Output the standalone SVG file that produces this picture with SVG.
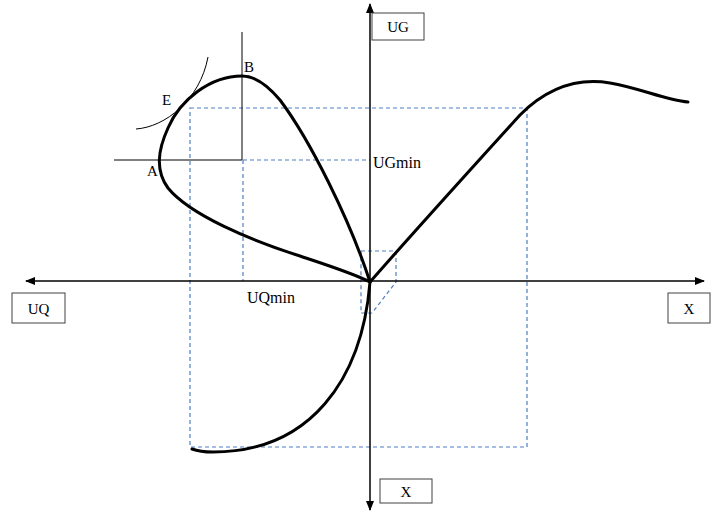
<svg xmlns="http://www.w3.org/2000/svg" width="712" height="516" viewBox="0 0 712 516">
<style>
.t{font-family:"Liberation Serif",serif;font-size:15px;fill:#000}
.tm{font-family:"Liberation Serif",serif;font-size:16px;fill:#000}
.box{fill:#fff;stroke:#404040;stroke-width:1}
.axis{stroke:#000;stroke-width:1.5;fill:none}
.thin{stroke:#000;stroke-width:1;fill:none}
.thick{stroke:#000;stroke-width:3;fill:none;stroke-linecap:round}
.dash{stroke:#4f7fc4;stroke-width:1.2;fill:none;stroke-dasharray:4,3}
</style>
<defs>
<marker id="ah" markerWidth="10" markerHeight="8" refX="9" refY="4" orient="auto" markerUnits="userSpaceOnUse">
<path d="M0,0 L10,4 L0,8 Z" fill="#000"/>
</marker>
</defs>
<g id="guides">
<rect class="dash" x="190" y="108" width="337" height="339"/>
<path class="dash" d="M243,160 L243,281 M243,160 L370,160"/>
<polygon class="dash" points="361,251 396,251 396,282 372,313 361,313"/>
</g>
<g id="connectors">
<line class="axis" x1="370" y1="281" x2="26" y2="281" marker-end="url(#ah)"/>
<line class="axis" x1="370" y1="281" x2="704" y2="281" marker-end="url(#ah)"/>
<line class="axis" x1="370" y1="281" x2="370" y2="4" marker-end="url(#ah)"/>
<line class="axis" x1="370" y1="281" x2="370" y2="510" marker-end="url(#ah)"/>
<line class="thin" x1="242" y1="32" x2="242" y2="160"/>
<line class="thin" x1="114" y1="160" x2="242" y2="160"/>
<path class="thin" d="M136,129 C165,127 200,100 208,57"/>
<path class="thick" d="M370,282 C350,220 310,140 280,100 C265,82 252,76 242,76 C210,76 180,100 168,128 C158,150 155,170 168,188 C190,215 250,240 300,256 C330,266 355,274 370,282"/>
<path class="thick" d="M370,282 C362,380 310,452 213,452 Q200,452 192,449"/>
<path class="thick" d="M370,282 C420,225 470,170 520,115 C550,85 580,78 610,83 C640,88 665,100 688,102"/>
</g>
<g id="node-UG"><rect class="box" x="372" y="13" width="52" height="27"/><text class="t" x="398" y="32" text-anchor="middle">UG</text></g>
<g id="node-UQ"><rect class="box" x="12" y="293" width="53" height="30"/><text class="t" x="38.5" y="314" text-anchor="middle">UQ</text></g>
<g id="node-X-right"><rect class="box" x="668" y="293" width="42" height="30"/><text class="t" x="689" y="314" text-anchor="middle">X</text></g>
<g id="node-X-bottom"><rect class="box" x="380" y="479" width="52" height="24"/><text class="t" x="406" y="497" text-anchor="middle">X</text></g>
<g id="labels">
<text class="t" x="244" y="72">B</text>
<text class="t" x="162" y="105">E</text>
<text class="t" x="147" y="176">A</text>
<text class="tm" x="373" y="168">UGmin</text>
<text class="tm" x="247" y="303">UQmin</text>
</g>
</svg>
